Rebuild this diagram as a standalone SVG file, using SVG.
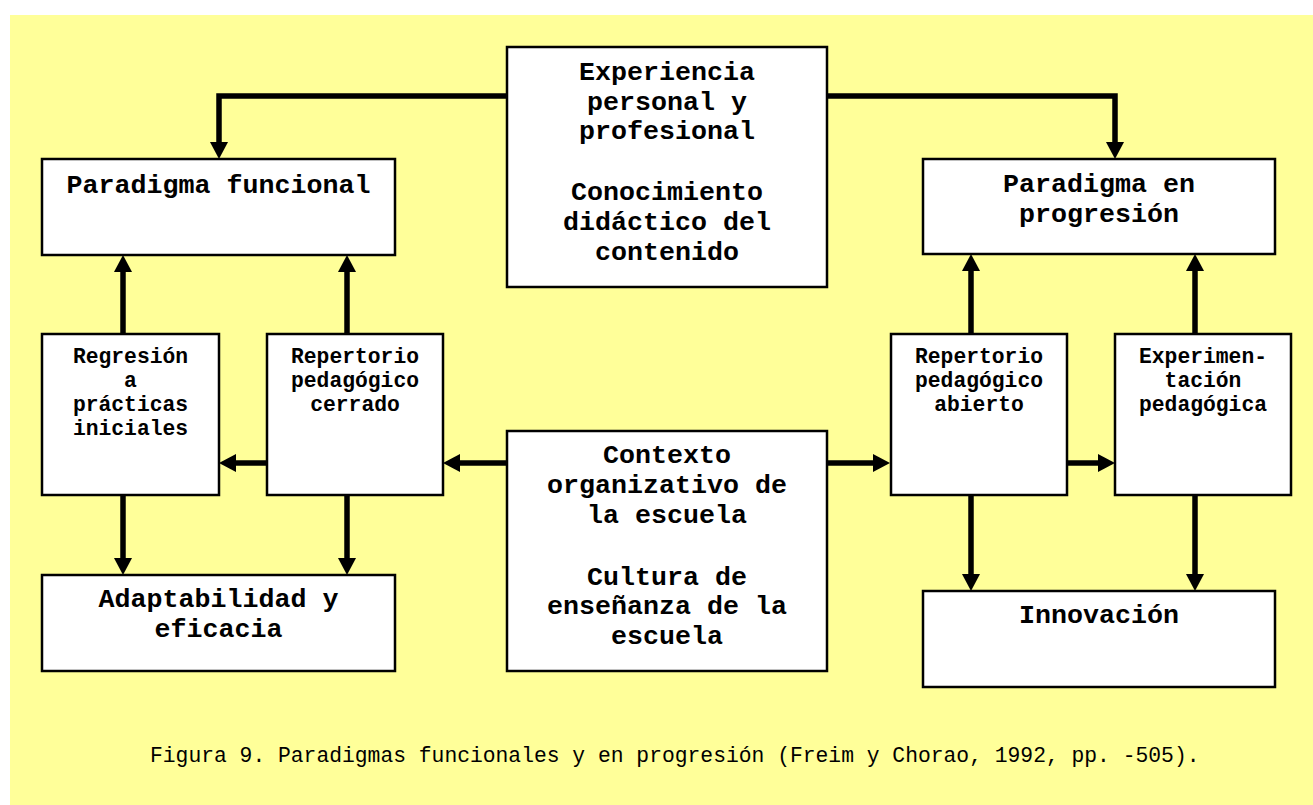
<svg xmlns="http://www.w3.org/2000/svg" width="1313" height="805" viewBox="0 0 1313 805">
<style>
.box{fill:#fff;stroke:#000;stroke-width:2.5}
.t{font-family:"Liberation Mono","Courier New",monospace;font-weight:bold;text-anchor:middle;fill:#000}
.big{font-size:26.67px}
.sm{font-size:21.33px}
.cap{font-family:"Liberation Mono","Courier New",monospace;font-size:21.33px;fill:#000}
.c{fill:none;stroke:#000;stroke-width:5.5;marker-end:url(#ah)}
</style>
<defs>
<marker id="ah" markerUnits="userSpaceOnUse" markerWidth="18" markerHeight="18" refX="2" refY="9" orient="auto" viewBox="0 0 18 18">
<path d="M0,0 L17,9 L0,18 z" fill="#000"/>
</marker>
</defs>
<rect x="10" y="15" width="1303" height="790" fill="#ffff99"/>
<g id="connectors">
<path class="c" d="M507,96 H219 V144"/>
<path class="c" d="M827,96 H1115 V144"/>
<path class="c" d="M123,334 V270"/>
<path class="c" d="M347,334 V270"/>
<path class="c" d="M971,334 V269"/>
<path class="c" d="M1195,334 V269"/>
<path class="c" d="M123,495 V560"/>
<path class="c" d="M347,495 V560"/>
<path class="c" d="M971,495 V576"/>
<path class="c" d="M1195,495 V576"/>
<path class="c" d="M507,463 H458"/>
<path class="c" d="M267,463 H234"/>
<path class="c" d="M827,463 H875"/>
<path class="c" d="M1067,463 H1100"/>
</g>
<g id="paradigma-funcional">
<rect class="box" x="42" y="159" width="353" height="96"/>
<text class="t big" x="218.5" y="193">Paradigma funcional</text>
</g>
<g id="experiencia">
<rect class="box" x="507" y="47" width="320" height="240"/>
<text class="t big" x="667" y="80">Experiencia</text>
<text class="t big" x="667" y="110">personal y</text>
<text class="t big" x="667" y="139">profesional</text>
<text class="t big" x="667" y="200">Conocimiento</text>
<text class="t big" x="667" y="230">didáctico del</text>
<text class="t big" x="667" y="260">contenido</text>
</g>
<g id="paradigma-progresion">
<rect class="box" x="923" y="159" width="352" height="95"/>
<text class="t big" x="1099" y="192">Paradigma en</text>
<text class="t big" x="1099" y="222">progresión</text>
</g>
<g id="regresion">
<rect class="box" x="42" y="334" width="177" height="161"/>
<text class="t sm" x="130.5" y="363">Regresión</text>
<text class="t sm" x="130.5" y="387">a</text>
<text class="t sm" x="130.5" y="411">prácticas</text>
<text class="t sm" x="130.5" y="435">iniciales</text>
</g>
<g id="repertorio-cerrado">
<rect class="box" x="267" y="334" width="176" height="161"/>
<text class="t sm" x="355" y="363">Repertorio</text>
<text class="t sm" x="355" y="387">pedagógico</text>
<text class="t sm" x="355" y="411">cerrado</text>
</g>
<g id="adaptabilidad">
<rect class="box" x="42" y="575" width="353" height="96"/>
<text class="t big" x="218.5" y="607">Adaptabilidad y</text>
<text class="t big" x="218.5" y="637">eficacia</text>
</g>
<g id="contexto">
<rect class="box" x="507" y="431" width="320" height="240"/>
<text class="t big" x="667" y="463">Contexto</text>
<text class="t big" x="667" y="493">organizativo de</text>
<text class="t big" x="667" y="523">la escuela</text>
<text class="t big" x="667" y="585">Cultura de</text>
<text class="t big" x="667" y="614">enseñanza de la</text>
<text class="t big" x="667" y="644">escuela</text>
</g>
<g id="repertorio-abierto">
<rect class="box" x="891" y="334" width="176" height="161"/>
<text class="t sm" x="979" y="363">Repertorio</text>
<text class="t sm" x="979" y="387">pedagógico</text>
<text class="t sm" x="979" y="411">abierto</text>
</g>
<g id="experimentacion">
<rect class="box" x="1115" y="334" width="176" height="161"/>
<text class="t sm" x="1203" y="363">Experimen-</text>
<text class="t sm" x="1203" y="387">tación</text>
<text class="t sm" x="1203" y="411">pedagógica</text>
</g>
<g id="innovacion">
<rect class="box" x="923" y="591" width="352" height="96"/>
<text class="t big" x="1099" y="623">Innovación</text>
</g>
<text class="cap" x="150" y="762">Figura 9. Paradigmas funcionales y en progresión (Freim y Chorao, 1992, pp. -505).</text>
</svg>
